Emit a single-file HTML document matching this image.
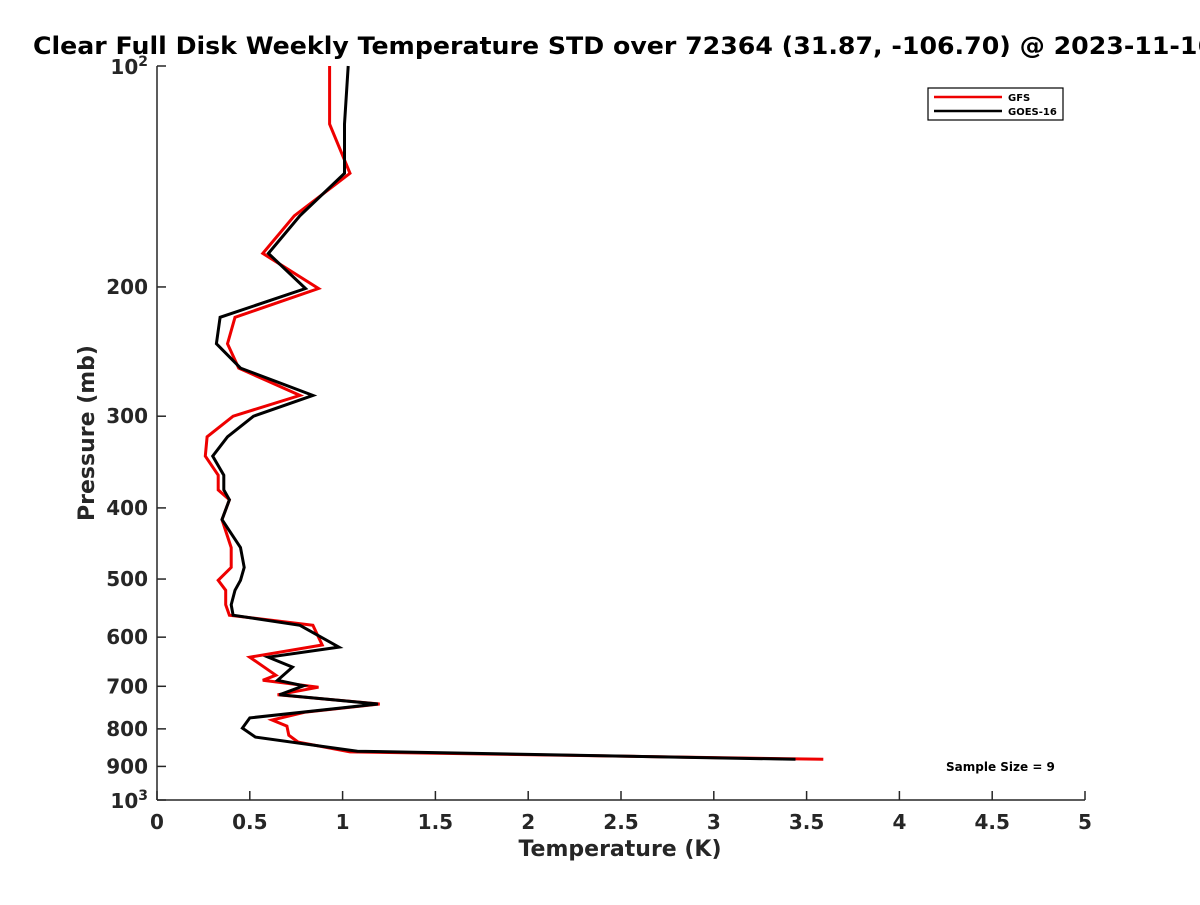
<!DOCTYPE html>
<html><head><meta charset="utf-8"><style>
body{margin:0;background:#fff;font-family:"Liberation Sans","DejaVu Sans",sans-serif;overflow:hidden;}
svg text{font-family:"DejaVu Sans","Liberation Sans",sans-serif;font-weight:bold;fill:#262626;}
</style></head><body>
<svg id="c" width="1200" height="900" xmlns="http://www.w3.org/2000/svg">
<text x="33" y="54" font-size="24" textLength="1182" lengthAdjust="spacingAndGlyphs" style="fill:#000">Clear Full Disk Weekly Temperature STD over 72364 (31.87, -106.70) @ 2023-11-16</text>
<g id="axes"></g>
<g id="series"></g>
<g>
<rect x="928" y="88" width="135" height="32" fill="#fff" stroke="#000" stroke-width="1.2"/>
<line x1="934" y1="97" x2="1002" y2="97" stroke="#e00" stroke-width="2.5"/>
<text x="1008" y="101" font-size="10" style="fill:#000">GFS</text>
<line x1="934" y1="111" x2="1002" y2="111" stroke="#000" stroke-width="2.5"/>
<text x="1008" y="115" font-size="10" style="fill:#000">GOES-16</text>
</g>
<text x="946" y="771" font-size="12" style="fill:#000">Sample Size = 9</text>
<text x="620" y="856" font-size="22" text-anchor="middle">Temperature (K)</text>
<text transform="translate(94,433) rotate(-90)" font-size="22" text-anchor="middle">Pressure (mb)</text>
</svg>
<script>
const xTicks=[0,0.5,1,1.5,2,2.5,3,3.5,4,4.5,5];
const xTickLabels=["0","0.5","1","1.5","2","2.5","3","3.5","4","4.5","5"];
const yTicks=[200,300,400,500,600,700,800,900];
const gfsP=[100,120,140,160,180,201,220,239,258,281,300,320,340,361,378,390,415,453,482,502,518,542,560,578,615,639,676,687,702,719,740,759,778,793,816,834,860,880];
const gfsT=[0.93,0.93,1.04,0.74,0.57,0.87,0.42,0.38,0.44,0.77,0.41,0.27,0.26,0.33,0.33,0.39,0.35,0.40,0.40,0.33,0.37,0.37,0.39,0.84,0.89,0.50,0.64,0.57,0.87,0.65,1.20,0.80,0.62,0.70,0.71,0.76,1.04,3.59];
const goesP=[100,120,140,160,180,201,220,239,258,281,300,320,340,361,378,390,415,453,482,502,518,542,560,578,619,639,659,687,699,719,740,773,798,821,858,880];
const goesT=[1.03,1.01,1.01,0.77,0.60,0.80,0.34,0.32,0.45,0.84,0.52,0.38,0.30,0.36,0.36,0.39,0.35,0.45,0.47,0.45,0.42,0.40,0.41,0.77,0.98,0.60,0.73,0.65,0.79,0.66,1.19,0.50,0.46,0.53,1.08,3.44];
const X0=157,X1=1085,Y0=66,Y1=800;
const sx=t=>X0+(X1-X0)*t/5;
const sy=p=>Y0+(Y1-Y0)*Math.log10(p/100);
const NS="http://www.w3.org/2000/svg";
function mk(tag,attrs,parent){const e=document.createElementNS(NS,tag);for(const k in attrs)e.setAttribute(k,attrs[k]);parent.appendChild(e);return e;}
const ax=document.getElementById('axes');
let l=mk('line',{x1:X0,y1:Y0,x2:X0,y2:Y1,stroke:'#262626','stroke-width':1.5},ax);


l=mk('line',{x1:X0,y1:Y1,x2:X1,y2:Y1,stroke:'#262626','stroke-width':1.5},ax);


xTicks.forEach((v,i)=>{
  const t=mk('line',{x1:sx(v),y1:Y1,x2:sx(v),y2:Y1-9,stroke:'#262626','stroke-width':1.5},ax);
  
  
  const tx=mk('text',{x:sx(v),y:Y1+29,'font-size':20,'text-anchor':'middle'},ax);
  tx.textContent=xTickLabels[i];
  
  
});
[100].concat(yTicks,[1000]).forEach(p=>{
  const t=mk('line',{x1:X0,y1:sy(p),x2:X0+9,y2:sy(p),stroke:'#262626','stroke-width':1.5},ax);
  
  
});
yTicks.forEach(p=>{
  const tx=mk('text',{x:X0-9,y:sy(p)+7,'font-size':20,'text-anchor':'end'},ax);
  tx.textContent=String(p);
  
  
});
[[100,"2"],[1000,"3"]].forEach(([p,e])=>{
  const tx=mk('text',{x:X0-9,y:sy(p)+8,'font-size':20,'text-anchor':'end'},ax);
  tx.innerHTML='10<tspan dy="-8" font-size="14">'+e+'</tspan>';
  
  
});
const sg=document.getElementById('series');
function line(P,T,col,name){
  const pts=P.map((p,i)=>sx(T[i]).toFixed(1)+','+sy(p).toFixed(1)).join(' ');
  const e=mk('polyline',{points:pts,fill:'none',stroke:col,'stroke-width':3,'stroke-linejoin':'miter'},sg);
  
  
}
line(gfsP,gfsT,'#e00','gfs-line');
line(goesP,goesT,'#000','goes16-line');
</script>
</body></html>
